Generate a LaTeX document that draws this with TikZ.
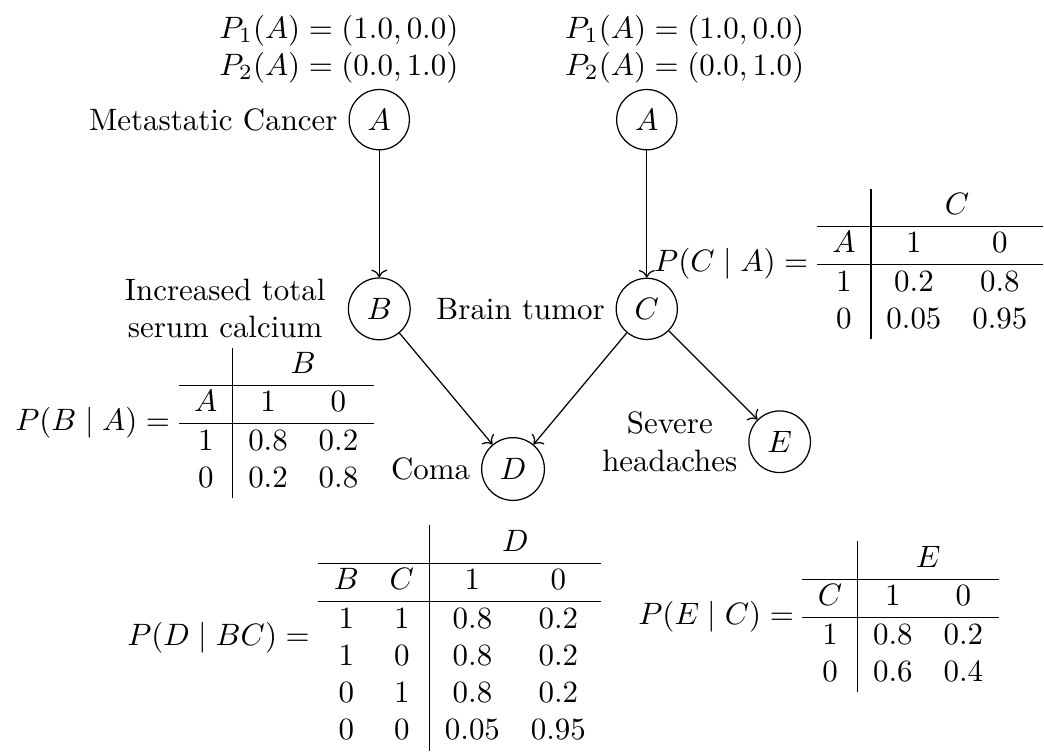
\documentclass[tikz,border=0pt]{standalone}
\usepackage{amsmath,amssymb}
\usetikzlibrary{arrows.meta,positioning}

\begin{document}
\begin{tikzpicture}[
  var/.style={draw, circle, inner sep=0.3333em},
  cpt/.style={inner sep=0.3333em},
  edge/.style={->}
]
  \useasboundingbox (0,0) rectangle (11.864,-8.568);
  \node[var] (A1) at (4.31,-1.36) {$A$};
  \node[var] (A2) at (7.35,-1.36) {$A$};
  \node[var] (B) at (4.31,-3.51) {$B$};
  \node[var] (C) at (7.35,-3.51) {$C$};
  \node[var] (D) at (5.83,-5.33) {$D$};
  \node[var] (E) at (8.86,-5.02) {$E$};

  \node[left=0pt of A1] (nameA) {Metastatic Cancer};
  \node[left=1.3mm of B, align=center] (nameB) {Increased total\\serum calcium};
  \node[left=0pt of C] (nameC) {Brain tumor};
  \node[left=0pt of D] (nameD) {Coma};
  \node[left=0pt of E, align=center] (nameE) {Severe\\headaches};

  \node[align=center] (priorL) at (3.85,-0.555) {$P_1(A) = (1.0, 0.0)$\\$P_2(A) = (0.0, 1.0)$};
  \node[align=center] (priorR) at (7.78,-0.555) {$P_1(A) = (1.0, 0.0)$\\$P_2(A) = (0.0, 1.0)$};

  \draw[edge] (A1) -- (B);
  \draw[edge] (A2) -- (C);
  \draw[edge] (B) -- (D);
  \draw[edge] (C) -- (D);
  \draw[edge] (C) -- (E);

  \node[cpt] (cptB) at (2.21,-4.807) {$P(B \mid A) =
    \begin{array}{c|cc}
      & \multicolumn{2}{c}{B} \\ \hline
      A & 1 & 0 \\ \hline
      1 & 0.8 & 0.2 \\
      0 & 0.2 & 0.8
    \end{array}$};
  \node[cpt] (cptC) at (9.642,-3.0) {$P(C \mid A) =
    \begin{array}{c|cc}
      & \multicolumn{2}{c}{C} \\ \hline
      A & 1 & 0 \\ \hline
      1 & 0.2 & 0.8 \\
      0 & 0.05 & 0.95
    \end{array}$};
  \node[cpt] (cptD) at (4.14,-7.25) {$P(D \mid BC) =
    \begin{array}{cc|cc}
      & & \multicolumn{2}{c}{D} \\ \hline
      B & C & 1 & 0 \\ \hline
      1 & 1 & 0.8 & 0.2 \\
      1 & 0 & 0.8 & 0.2 \\
      0 & 1 & 0.8 & 0.2 \\
      0 & 0 & 0.05 & 0.95
    \end{array}$};
  \node[cpt] (cptE) at (9.301,-7.011) {$P(E \mid C) =
    \begin{array}{c|cc}
      & \multicolumn{2}{c}{E} \\ \hline
      C & 1 & 0 \\ \hline
      1 & 0.8 & 0.2 \\
      0 & 0.6 & 0.4
    \end{array}$};
\end{tikzpicture}
\end{document}
